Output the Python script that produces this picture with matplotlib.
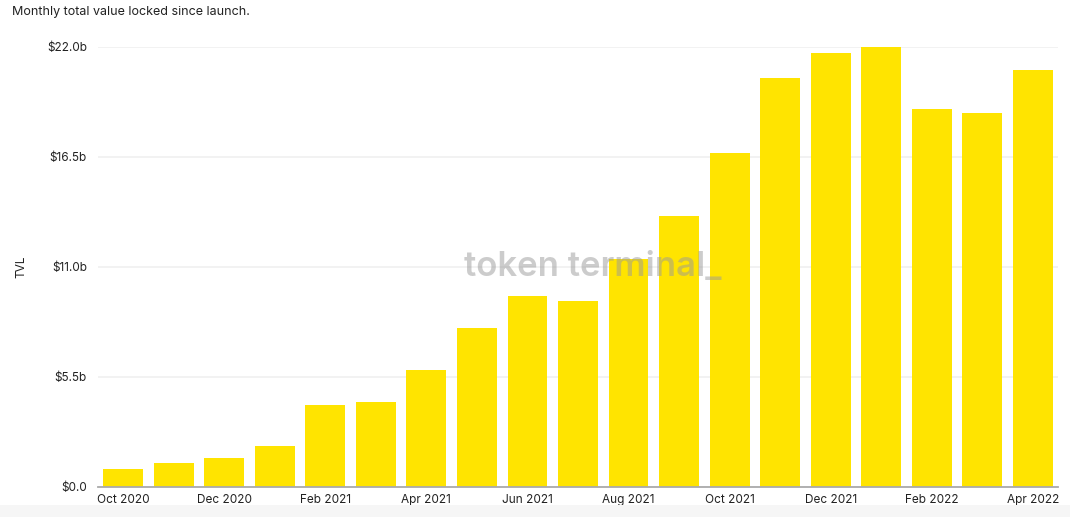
import matplotlib
matplotlib.use("Agg")
import matplotlib.pyplot as plt
from matplotlib.patches import Rectangle

months = ["Oct 2020", "Nov 2020", "Dec 2020", "Jan 2021", "Feb 2021", "Mar 2021",
          "Apr 2021", "May 2021", "Jun 2021", "Jul 2021", "Aug 2021", "Sep 2021",
          "Oct 2021", "Nov 2021", "Dec 2021", "Jan 2022", "Feb 2022", "Mar 2022",
          "Apr 2022"]
tvl_b = [0.9, 1.2, 1.45, 2.05, 4.1, 4.25, 5.85, 7.95, 9.55, 9.3, 11.4, 13.55,
         16.7, 20.47, 21.7, 21.98, 18.9, 18.7, 20.85]
yticks = [0.0, 5.5, 11.0, 16.5, 22.0]
ytick_labels = ["$0.0", "$5.5b", "$11.0b", "$16.5b", "$22.0b"]

plt.rcParams['font.family'] = ['Inter', 'DejaVu Sans']

fig = plt.figure(figsize=(10.70, 5.17), dpi=100)
fig.patches.append(Rectangle((0, 0), 1, 12/517, transform=fig.transFigure,
                             facecolor="#f6f6f6", edgecolor="none", zorder=0))
ax = fig.add_axes([98/1070, 30/517, 960/1070, 440/517])

x = list(range(len(months)))
ax.bar(x, tvl_b, width=0.79, color="#ffe400", zorder=3)

ax.set_xlim(-0.5, len(months) - 0.5)
ax.set_ylim(0, 22.0)
ax.set_yticks(yticks)
ax.set_yticklabels(ytick_labels)
ax.set_xticks(x[::2])
ax.set_xticklabels(months[::2])

ax.grid(axis="y", color="#f0f0f0", linewidth=1.2, zorder=0)
for s in ["top", "right", "left"]:
    ax.spines[s].set_visible(False)
ax.spines["bottom"].set_color("#aaaaaa")
ax.spines["bottom"].set_linewidth(1.3)
ax.spines["bottom"].set_zorder(4)
ax.tick_params(axis="both", length=0, labelsize=8.5, colors="#222222")
ax.tick_params(axis="y", pad=8)
ax.tick_params(axis="x", pad=5)

ax.set_ylabel("TVL", fontsize=8.5, color="#222222", labelpad=14)

fig.text(12/1070, 1 - 12/517, "Monthly total value locked since launch.",
         fontsize=9, color="#222222", va="center", ha="left")

ax.text(0.515, 0.5, "token terminal_", transform=ax.transAxes, fontsize=25,
        fontweight="semibold", color="#9a9a9a", alpha=0.5, ha="center",
        va="center", zorder=5)

fig.savefig("out.png", dpi=100)
